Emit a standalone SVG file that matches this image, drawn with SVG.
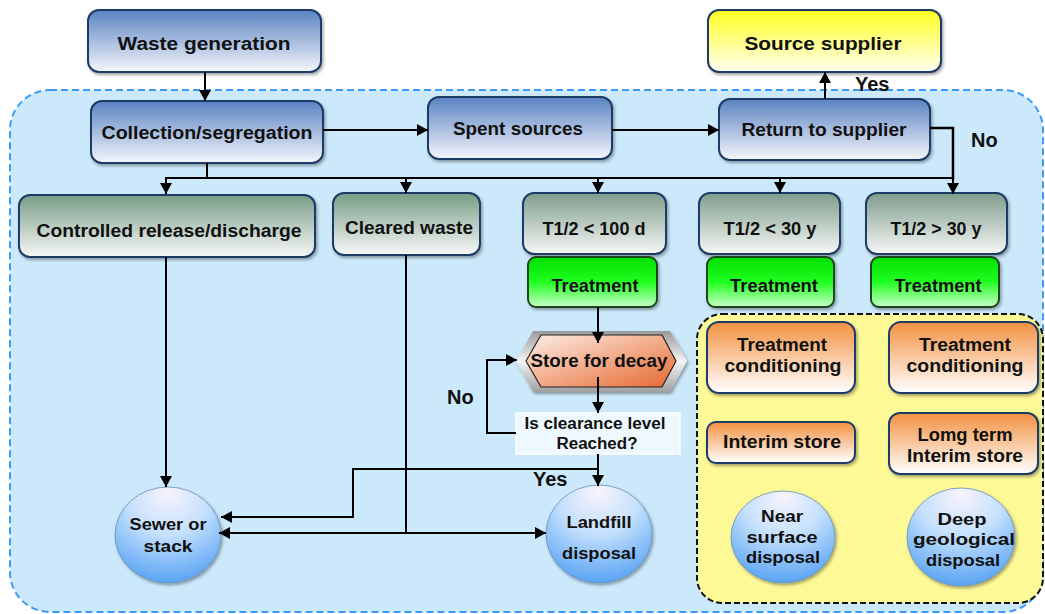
<svg xmlns="http://www.w3.org/2000/svg" width="1045" height="614" viewBox="0 0 1045 614">
<defs>
<linearGradient id="gBlue" x1="0" y1="0" x2="0" y2="1"><stop offset="0" stop-color="#5a83c2"/><stop offset="1" stop-color="#f5f6fb"/></linearGradient>
<linearGradient id="gGreen" x1="0" y1="0" x2="0" y2="1"><stop offset="0" stop-color="#789d87"/><stop offset="1" stop-color="#f7f8f7"/></linearGradient>
<linearGradient id="gGray" x1="0" y1="0" x2="0" y2="1"><stop offset="0" stop-color="#7f9d8c"/><stop offset="1" stop-color="#f6f7f6"/></linearGradient>
<linearGradient id="gTreat" x1="0" y1="0" x2="0" y2="1"><stop offset="0" stop-color="#00e000"/><stop offset="0.5" stop-color="#20ff20"/><stop offset="1" stop-color="#c8ffc8"/></linearGradient>
<linearGradient id="gYellow" x1="0" y1="0" x2="0" y2="1"><stop offset="0" stop-color="#ffff1e"/><stop offset="1" stop-color="#fffff2"/></linearGradient>
<linearGradient id="gOrange" x1="0" y1="0" x2="0" y2="1"><stop offset="0" stop-color="#f39140"/><stop offset="1" stop-color="#ffffff"/></linearGradient>
<linearGradient id="gHex" x1="0" y1="0" x2="1" y2="1"><stop offset="0" stop-color="#fdeee6"/><stop offset="1" stop-color="#e6692e"/></linearGradient>
<linearGradient id="gSilver" x1="0" y1="0" x2="0" y2="1"><stop offset="0" stop-color="#9a9a9a"/><stop offset="0.5" stop-color="#f4f4f4"/><stop offset="1" stop-color="#a0a0a0"/></linearGradient>
<radialGradient id="gBall" cx="0.5" cy="0.2" r="0.85" fx="0.5" fy="0.05"><stop offset="0" stop-color="#f8f4fc"/><stop offset="0.45" stop-color="#c4e0fd"/><stop offset="1" stop-color="#4f9ef3"/></radialGradient>
<filter id="sh" x="-10%" y="-10%" width="125%" height="130%"><feDropShadow dx="1.5" dy="2" stdDeviation="1.5" flood-color="#000" flood-opacity="0.35"/></filter>
<marker id="ah" markerUnits="userSpaceOnUse" markerWidth="12" markerHeight="12" refX="11" refY="6" orient="auto"><path d="M0,0 L11,6 L0,12 z" fill="#000"/></marker>
</defs>
<style>
.box{stroke:#1f3a66;stroke-width:2;filter:url(#sh)}
.tr{stroke:#1c461c;stroke-width:2;filter:url(#sh)}
.ball{stroke:#6b8fb8;stroke-width:0.8;filter:url(#sh)}
.t{font-family:"Liberation Sans",Arial,sans-serif;font-weight:bold;font-size:18px;fill:#111;text-anchor:middle}
.s{font-size:16px}
.lbl{font-family:"Liberation Sans",Arial,sans-serif;font-weight:bold;font-size:20px;fill:#111}
.c{fill:none;stroke:#000;stroke-width:2}
.a{marker-end:url(#ah)}
</style>
<rect x="0" y="0" width="1045" height="614" fill="#ffffff"/>
<rect id="region-main" x="10" y="90" width="1033" height="522" rx="40" fill="#cbe9fb" stroke="#3d9bf5" stroke-width="2" stroke-dasharray="7,4"/>
<rect id="region-yellow" x="697" y="314" width="346" height="289" rx="25" fill="#fdf996" stroke="#111" stroke-width="2" stroke-dasharray="6,3"/>

<g id="waste-generation"><rect class="box" x="88" y="10" width="233" height="62" rx="11" fill="url(#gBlue)"/><text class="t" x="204" y="50" textLength="173" lengthAdjust="spacingAndGlyphs">Waste generation</text></g>
<g id="collection"><rect class="box" x="91" y="101" width="232" height="62" rx="11" fill="url(#gBlue)"/><text class="t" x="207" y="139" textLength="211" lengthAdjust="spacingAndGlyphs">Collection/segregation</text></g>
<g id="spent-sources"><rect class="box" x="428" y="97" width="184" height="62" rx="11" fill="url(#gBlue)"/><text class="t" x="518" y="135" textLength="130" lengthAdjust="spacingAndGlyphs">Spent sources</text></g>
<g id="return-supplier"><rect class="box" x="719" y="99" width="211" height="61" rx="11" fill="url(#gBlue)"/><text class="t" x="824" y="136" textLength="165" lengthAdjust="spacingAndGlyphs">Return to supplier</text></g>
<g id="source-supplier"><rect class="box" x="708" y="10" width="233" height="62" rx="11" fill="url(#gYellow)"/><text class="t" x="823" y="50" textLength="157" lengthAdjust="spacingAndGlyphs">Source supplier</text></g>
<text class="lbl" x="855" y="91">Yes</text>
<text class="lbl" x="971" y="147">No</text>

<g id="controlled-release"><rect class="box" x="19" y="195" width="296" height="62" rx="11" fill="url(#gGreen)"/><text class="t" x="169" y="237" textLength="265" lengthAdjust="spacingAndGlyphs">Controlled release/discharge</text></g>
<g id="cleared-waste"><rect class="box" x="333" y="193" width="147" height="62" rx="11" fill="url(#gGreen)"/><text class="t" x="409" y="234" textLength="128" lengthAdjust="spacingAndGlyphs">Cleared waste</text></g>
<g id="t-100d"><rect class="box" x="523" y="193" width="143" height="61" rx="11" fill="url(#gGray)"/><text class="t" x="594" y="235" textLength="103" lengthAdjust="spacingAndGlyphs">T1/2 &lt; 100 d</text></g>
<g id="t-lt30y"><rect class="box" x="699" y="193" width="141" height="61" rx="11" fill="url(#gGray)"/><text class="t" x="770" y="235" textLength="93" lengthAdjust="spacingAndGlyphs">T1/2 &lt; 30 y</text></g>
<g id="t-gt30y"><rect class="box" x="866" y="193" width="141" height="61" rx="11" fill="url(#gGray)"/><text class="t" x="936" y="235" textLength="91" lengthAdjust="spacingAndGlyphs">T1/2 &gt; 30 y</text></g>

<g id="treatment-1"><rect class="tr" x="528" y="257" width="129" height="50" rx="8" fill="url(#gTreat)"/><text class="t" x="595" y="292" textLength="87" lengthAdjust="spacingAndGlyphs">Treatment</text></g>
<g id="treatment-2"><rect class="tr" x="707" y="257" width="127" height="50" rx="8" fill="url(#gTreat)"/><text class="t" x="774" y="292" textLength="88" lengthAdjust="spacingAndGlyphs">Treatment</text></g>
<g id="treatment-3"><rect class="tr" x="871" y="257" width="128" height="50" rx="8" fill="url(#gTreat)"/><text class="t" x="938" y="292" textLength="87" lengthAdjust="spacingAndGlyphs">Treatment</text></g>

<g id="store-decay">
<polygon points="516,361 533,331 670,331 687,361 670,392 533,392" fill="url(#gSilver)" filter="url(#sh)"/>
<polygon points="526,361 541,335 662,335 676,361 662,387 541,387" fill="url(#gHex)" stroke="#222" stroke-width="1.2"/>
<text class="t" x="599" y="367" textLength="137" lengthAdjust="spacingAndGlyphs">Store for decay</text>
</g>
<g id="clearance-check"><rect x="516" y="413" width="164" height="41" fill="#eef8ff" stroke="#ffffff" stroke-width="1.5"/><text class="t s" x="595" y="429" textLength="141" lengthAdjust="spacingAndGlyphs">Is clearance level</text><text class="t s" x="597" y="449" textLength="81" lengthAdjust="spacingAndGlyphs">Reached?</text></g>
<text class="lbl" x="447" y="404">No</text>
<text class="lbl" x="533" y="486">Yes</text>

<g id="sewer"><ellipse class="ball" cx="168" cy="535" rx="53" ry="48" fill="url(#gBall)"/><text class="t s" x="168" y="530" textLength="77" lengthAdjust="spacingAndGlyphs">Sewer or</text><text class="t s" x="168" y="552" textLength="49" lengthAdjust="spacingAndGlyphs">stack</text></g>
<g id="landfill"><ellipse class="ball" cx="599" cy="534" rx="53" ry="49" fill="url(#gBall)"/><text class="t s" x="599" y="528" textLength="65" lengthAdjust="spacingAndGlyphs">Landfill</text><text class="t s" x="599" y="559" textLength="74" lengthAdjust="spacingAndGlyphs">disposal</text></g>

<g id="conditioning-1"><rect class="box" x="707" y="322" width="148" height="71" rx="12" fill="url(#gOrange)"/><text class="t" x="782" y="351" textLength="90" lengthAdjust="spacingAndGlyphs">Treatment</text><text class="t" x="783" y="372" textLength="117" lengthAdjust="spacingAndGlyphs">conditioning</text></g>
<g id="conditioning-2"><rect class="box" x="889" y="322" width="149" height="71" rx="12" fill="url(#gOrange)"/><text class="t" x="965" y="351" textLength="92" lengthAdjust="spacingAndGlyphs">Treatment</text><text class="t" x="965" y="372" textLength="117" lengthAdjust="spacingAndGlyphs">conditioning</text></g>
<g id="interim-store"><rect class="box" x="707" y="422" width="148" height="41" rx="9" fill="url(#gOrange)"/><text class="t" x="782" y="448" textLength="118" lengthAdjust="spacingAndGlyphs">Interim store</text></g>
<g id="long-term-store"><rect class="box" x="889" y="413" width="149" height="61" rx="11" fill="url(#gOrange)"/><text class="t" x="965" y="441" textLength="95" lengthAdjust="spacingAndGlyphs">Lomg term</text><text class="t" x="965" y="462" textLength="116" lengthAdjust="spacingAndGlyphs">Interim store</text></g>
<g id="near-surface"><ellipse class="ball" cx="783" cy="537" rx="52" ry="46" fill="url(#gBall)"/><text class="t s" x="782" y="522" textLength="42" lengthAdjust="spacingAndGlyphs">Near</text><text class="t s" x="782" y="543" textLength="71" lengthAdjust="spacingAndGlyphs">surface</text><text class="t s" x="783" y="563" textLength="74" lengthAdjust="spacingAndGlyphs">disposal</text></g>
<g id="deep-geological"><ellipse class="ball" cx="961" cy="537" rx="54" ry="49" fill="url(#gBall)"/><text class="t s" x="962" y="525" textLength="49" lengthAdjust="spacingAndGlyphs">Deep</text><text class="t s" x="964" y="545" textLength="102" lengthAdjust="spacingAndGlyphs">geological</text><text class="t s" x="963" y="566" textLength="74" lengthAdjust="spacingAndGlyphs">disposal</text></g>

<g id="connectors">
<path class="c a" d="M205,72 V101"/>
<path class="c a" d="M323,130 H428"/>
<path class="c a" d="M612,130 H719"/>
<path class="c a" d="M825,99 V72"/>
<path class="c" style="stroke-width:2.5" d="M930,128 H953 V180"/>
<path class="c a" d="M953,176 V194"/>
<path class="c" d="M207,163 V178 M166,178 H953"/>
<path class="c a" d="M166,177 V194"/>
<path class="c a" d="M406,177 V193"/>
<path class="c a" d="M598,177 V193"/>
<path class="c a" d="M780,177 V193"/>
<path class="c a" d="M166,257 V487"/>
<path class="c" d="M406,255 V533"/>
<path class="c a" d="M406,533 H219"/>
<path class="c a" d="M406,533 H546"/>
<path class="c a" d="M598,307 V343"/>
<path class="c a" d="M598,377 V413"/>
<path class="c a" d="M516,433 H487 V360 H517"/>
<path class="c a" d="M598,454 V486"/>
<path class="c a" d="M598,469 H353 V517 H221"/>
</g>
</svg>
